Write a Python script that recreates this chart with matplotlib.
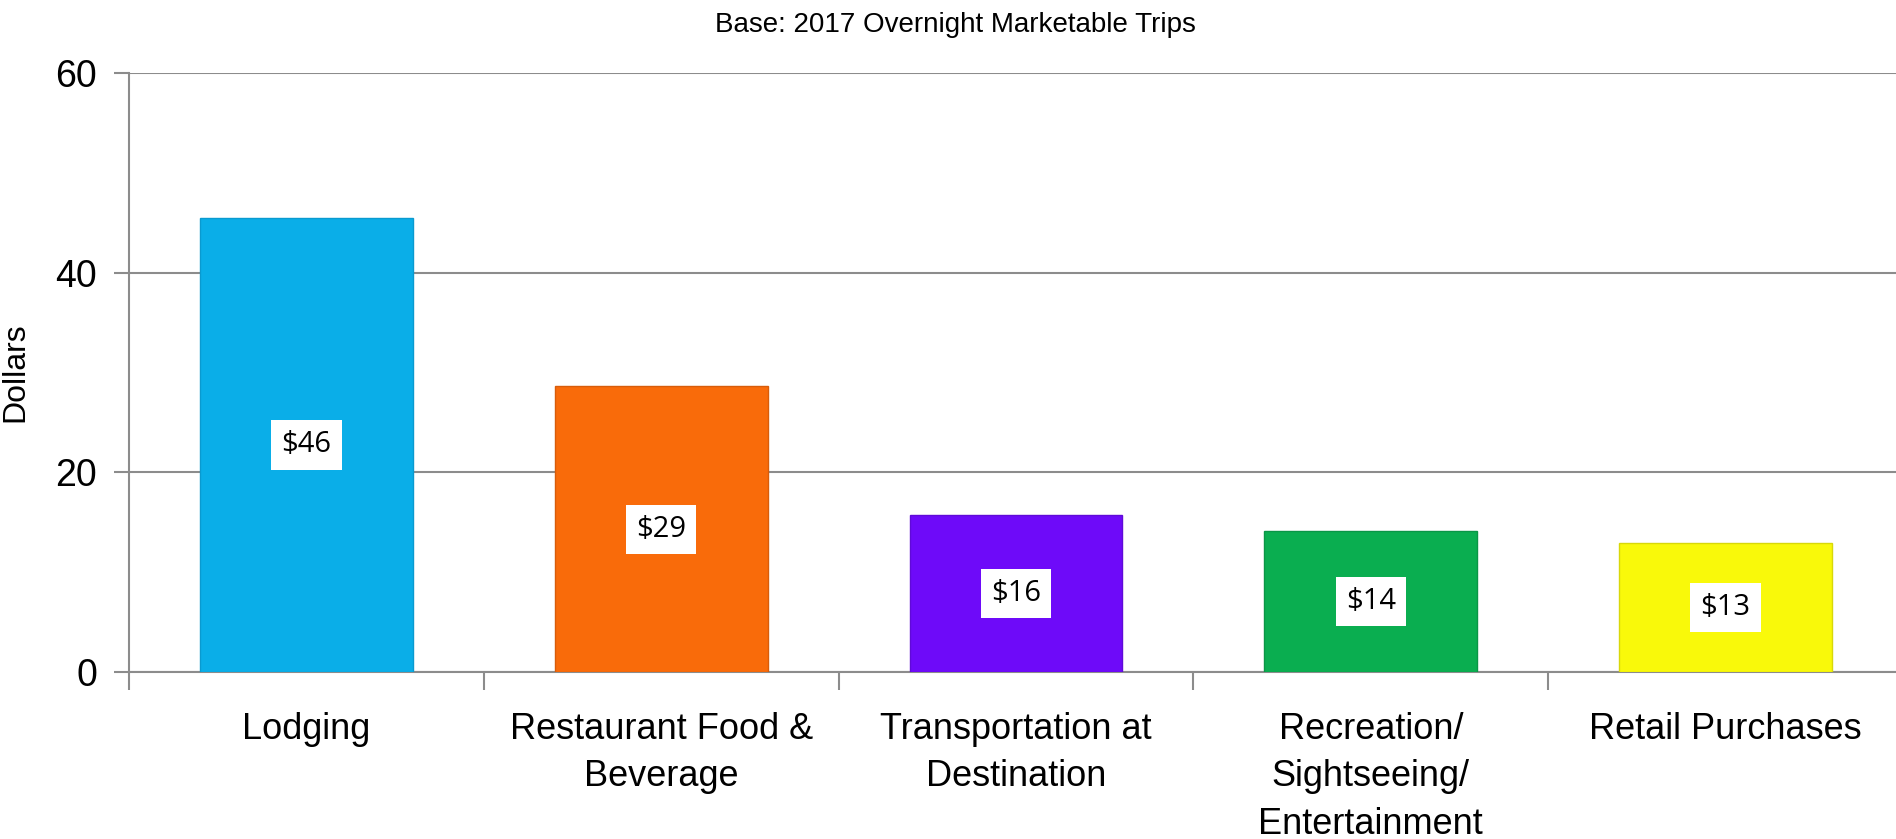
import matplotlib
matplotlib.use("Agg")
import matplotlib.pyplot as plt
from matplotlib.ticker import FixedLocator

categories = ["Lodging", "Restaurant Food &\nBeverage", "Transportation at\nDestination",
              "Recreation/\nSightseeing/\nEntertainment", "Retail Purchases"]
values = [45.5, 28.6, 15.7, 14.1, 12.9]
labels = ["$46", "$29", "$16", "$14", "$13"]
colors = ["#0AAEE8", "#F96B0A", "#6E0AF9", "#0AAE50", "#F9F90A"]
edges = ["#0A9AD0", "#D85C0A", "#600AD8", "#0A9646", "#D8D80A"]

plt.rcParams['font.family'] = ['Liberation Sans', 'DejaVu Sans']

fig = plt.figure(figsize=(18.96, 8.39), dpi=100)
ax = fig.add_axes([129/1896, 1 - 672/839, (1903 - 129)/1896, (672 - 73)/839])

x = range(len(categories))
ax.bar(x, values, width=0.6, color=colors, edgecolor=edges, linewidth=1.0, zorder=3)

# value labels in white boxes at mid-height of each bar
for i, (v, lab) in enumerate(zip(values, labels)):
    ax.text(i, v / 2, lab, ha='center', va='center', fontsize=21, family=['Open Sans', 'DejaVu Sans'],
            color='black', zorder=4,
            bbox=dict(boxstyle='square,pad=0.35', facecolor='white', edgecolor='none'))

ax.set_xlim(-0.5, 4.5)
ax.set_ylim(0, 60)
ax.set_yticks([0, 20, 40, 60])
ax.yaxis.grid(True, color='#8c8c8c', linewidth=1.5, zorder=0)
ax.tick_params(axis='y', labelsize=27, length=11, width=1.5, color='#8c8c8c', pad=12)

ax.set_xticks(list(x))
ax.set_xticklabels(categories, fontsize=26, linespacing=1.45)
ax.tick_params(axis='x', which='major', length=0, pad=29)
ax.xaxis.set_minor_locator(FixedLocator([-0.5, 0.5, 1.5, 2.5, 3.5]))
ax.tick_params(axis='x', which='minor', length=13, width=1.5, color='#8c8c8c')

for s in ['top', 'right']:
    ax.spines[s].set_visible(False)
for s in ['left', 'bottom']:
    ax.spines[s].set_color('#8c8c8c')
    ax.spines[s].set_linewidth(1.5)

ax.set_ylabel("Dollars", fontsize=23)
ax.yaxis.set_label_coords(-(129 - 30)/(1903 - 129), 0.5)
fig.text(955/1896, 1 - 25/839, "Base: 2017 Overnight Marketable Trips", ha='center', va='center', fontsize=20)

fig.savefig("out.png", dpi=100)
